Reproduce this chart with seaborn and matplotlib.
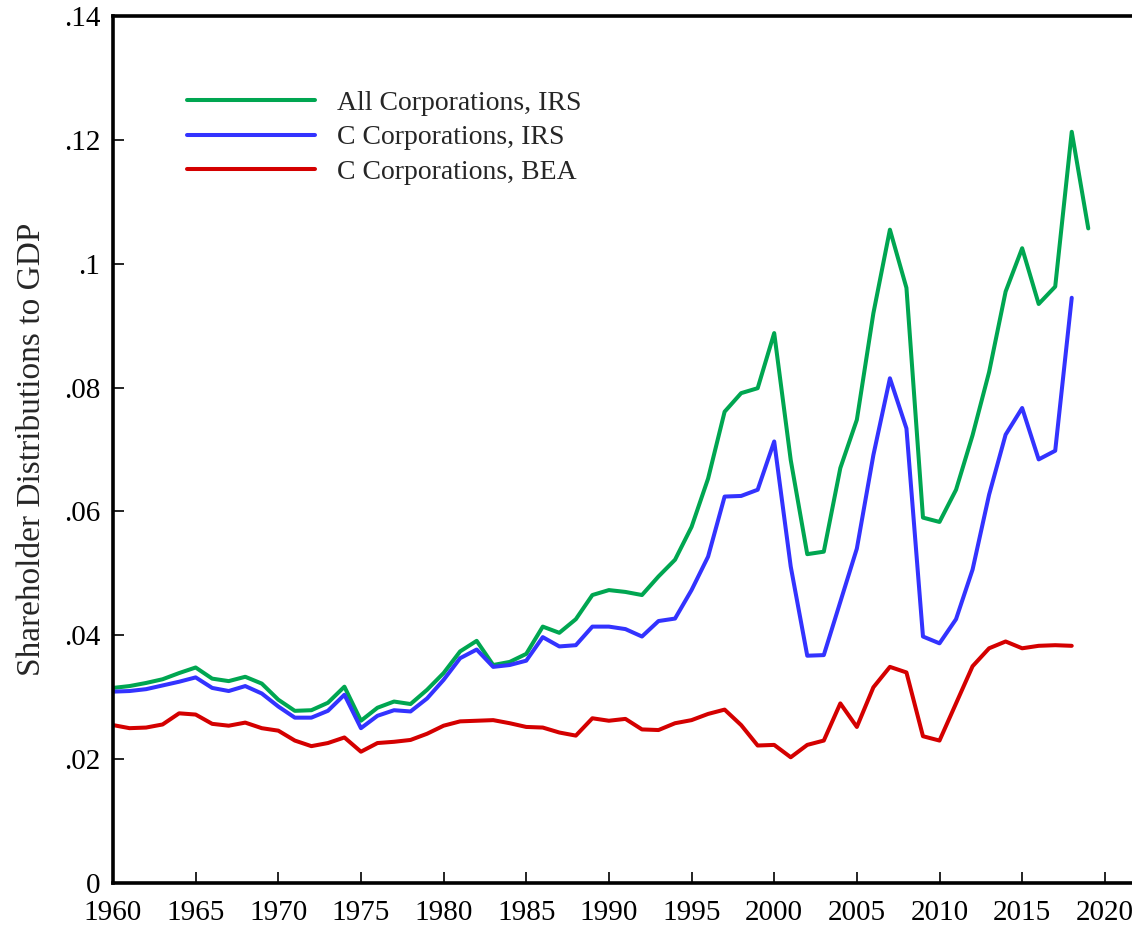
import numpy as np
import pandas as pd
import matplotlib
matplotlib.use("Agg")
import matplotlib.pyplot as plt
import seaborn as sns

# data
years = list(range(1960, 2020))

all_irs = [0.0315, 0.0318, 0.0323, 0.0329, 0.0339, 0.0348, 0.0330, 0.0326, 0.0333, 0.0322,
           0.0296, 0.0278, 0.0279, 0.0291, 0.0317, 0.0262, 0.0283, 0.0293, 0.0289, 0.0312,
           0.0339, 0.0374, 0.0391, 0.0352, 0.0357, 0.0370, 0.0414, 0.0404, 0.0426, 0.0465,
           0.0473, 0.0470, 0.0465, 0.0495, 0.0522, 0.0575, 0.0653, 0.0761, 0.0791, 0.0799,
           0.0888, 0.0683, 0.0531, 0.0535, 0.0670, 0.0748, 0.0920, 0.1055, 0.0961, 0.0590,
           0.0583, 0.0635, 0.0723, 0.0825, 0.0955, 0.1025, 0.0935, 0.0963, 0.1213, 0.1057]

c_irs = [0.0309, 0.0310, 0.0313, 0.0319, 0.0325, 0.0332, 0.0315, 0.0310, 0.0318, 0.0306,
         0.0285, 0.0267, 0.0267, 0.0278, 0.0304, 0.0250, 0.0270, 0.0279, 0.0277, 0.0298,
         0.0328, 0.0363, 0.0377, 0.0349, 0.0352, 0.0359, 0.0397, 0.0382, 0.0384, 0.0414,
         0.0414, 0.0410, 0.0398, 0.0423, 0.0427, 0.0473, 0.0527, 0.0624, 0.0625, 0.0635,
         0.0713, 0.0511, 0.0367, 0.0368, 0.0454, 0.0540, 0.0691, 0.0815, 0.0734, 0.0398,
         0.0387, 0.0426, 0.0506, 0.0627, 0.0724, 0.0767, 0.0684, 0.0698, 0.0945]

c_bea = [0.0255, 0.0250, 0.0251, 0.0256, 0.0274, 0.0272, 0.0257, 0.0254, 0.0259, 0.0250,
         0.0246, 0.0230, 0.0221, 0.0226, 0.0235, 0.0212, 0.0226, 0.0228, 0.0231, 0.0241,
         0.0254, 0.0261, 0.0262, 0.0263, 0.0258, 0.0252, 0.0251, 0.0243, 0.0238, 0.0266,
         0.0262, 0.0265, 0.0248, 0.0247, 0.0258, 0.0263, 0.0273, 0.0280, 0.0255, 0.0222,
         0.0223, 0.0203, 0.0223, 0.0230, 0.0290, 0.0252, 0.0316, 0.0349, 0.0340, 0.0237,
         0.0230, 0.0290, 0.0350, 0.0379, 0.0390, 0.0379, 0.0383, 0.0384, 0.0383]

series_names = ["All Corporations, IRS", "C Corporations, IRS", "C Corporations, BEA"]
colors = ["#00a651", "#3333ff", "#d40000"]

xticks = list(range(1960, 2021, 5))
yticks = [0, 0.02, 0.04, 0.06, 0.08, 0.10, 0.12, 0.14]
ytick_labels = ["0", ".02", ".04", ".06", ".08", ".1", ".12", ".14"]

# long format for seaborn
frames = []
for name, vals in zip(series_names, [all_irs, c_irs, c_bea]):
    frames.append(pd.DataFrame({"year": years[:len(vals)], "value": vals, "series": name}))
df = pd.concat(frames, ignore_index=True)

sns.set_style("ticks")
plt.rcParams["font.family"] = ["Liberation Serif", "DejaVu Serif"]

fig = plt.figure(figsize=(11.32, 9.26), dpi=100)
# axes extends a bit past the right edge like the original
ax = fig.add_axes([113 / 1132, 43 / 926, 1027 / 1132, 867 / 926])

sns.lineplot(data=df, x="year", y="value", hue="series", hue_order=series_names,
             palette=colors, linewidth=2.9, ax=ax, legend=True)

ax.set_xlim(1960, 1960 + 1027 / 16.53)
ax.set_ylim(0, 0.14)
ax.set_xticks(xticks)
ax.set_xticklabels([str(t) for t in xticks])
ax.set_yticks(yticks)
ax.set_yticklabels(ytick_labels)
ax.tick_params(axis="both", direction="in", length=8, width=1.2, labelsize=21, colors="black")
ax.tick_params(axis="y", pad=9)
ax.tick_params(axis="x", pad=12)

for side in ["left", "bottom", "top"]:
    ax.spines[side].set_linewidth(2.6)
    ax.spines[side].set_color("black")
ax.spines["right"].set_visible(False)

ax.set_xlabel("")
ax.set_ylabel("Shareholder Distributions to GDP", fontsize=24, labelpad=12)

leg = ax.legend(loc="upper left", bbox_to_anchor=(0.048, 0.943), frameon=False,
                fontsize=20, handlelength=4.6, handletextpad=0.8, labelspacing=0.33)
for line in leg.get_lines():
    line.set_linewidth(2.9)

fig.savefig("out.png", dpi=100)
